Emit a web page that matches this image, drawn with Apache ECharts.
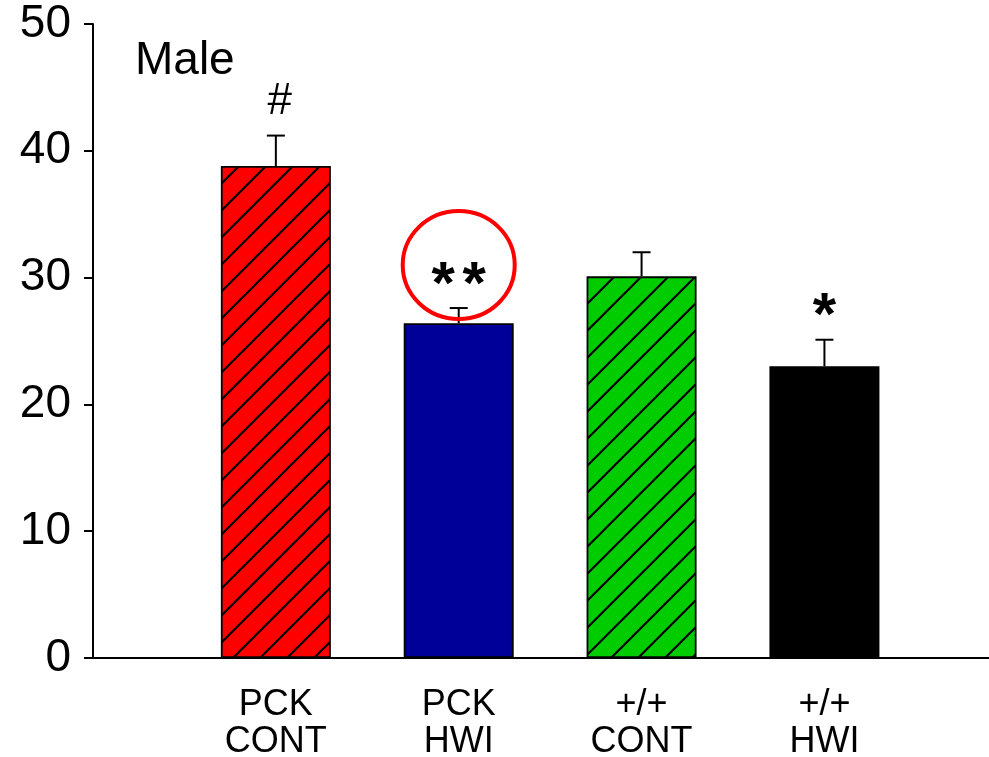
<!DOCTYPE html>
<html>
<head>
<meta charset="utf-8">
<script src="https://cdn.jsdelivr.net/npm/echarts@6/dist/echarts.min.js"></script>
<style>
  html, body { margin: 0; padding: 0; background: #fff; }
  #chart { width: 989px; height: 757px; }
</style>
</head>
<body>
<div id="chart"></div>
<script>
// Groups, means, SEM and significance marks
const groups = ['PCK\nCONT', 'PCK\nHWI', '+/+\nCONT', '+/+\nHWI'];
const means = [38.8, 26.4, 30.1, 23.0];
const sem = [2.4, 1.2, 1.9, 2.1];
const marks = ['#', '**', '', '*'];
const fills = ['#ff0000', '#000099', '#00cc00', '#000000'];
const hatched = [true, false, true, false];
const yTicks = [0, 10, 20, 30, 40, 50];
const panelTitle = 'Male';
const circledGroup = 1;

const FONT = '"Liberation Sans", Arial, sans-serif';

// Diagonal hatch tile filled with the bar colour
function hatchPattern(color) {
  const s = 27;
  const c = document.createElement('canvas');
  c.width = s; c.height = s;
  const g = c.getContext('2d');
  g.fillStyle = color;
  g.fillRect(0, 0, s, s);
  g.strokeStyle = '#000';
  g.lineWidth = 2.2;
  g.beginPath();
  g.moveTo(-2, s + 2); g.lineTo(s + 2, -2);
  g.moveTo(-2, 2); g.lineTo(2, -2);
  g.moveTo(s - 2, s + 2); g.lineTo(s + 2, s - 2);
  g.stroke();
  return { image: c, repeat: 'repeat' };
}

const barData = means.map((v, i) => ({
  value: [i + 1, v],
  itemStyle: { color: hatched[i] ? hatchPattern(fills[i]) : fills[i] }
}));

const errData = means.map((v, i) => [i + 1, v, v + sem[i], i]);

const chart = echarts.init(document.getElementById('chart'), null, { renderer: 'canvas' });

chart.setOption({
  animation: false,
  backgroundColor: '#fff',
  grid: { left: 93, right: 0, top: 24, bottom: 99, containLabel: false, outerBoundsMode: 'none' },
  xAxis: {
    type: 'value',
    min: 0,
    max: 4.9,
    interval: 1,
    splitLine: { show: false },
    axisLine: { show: true, lineStyle: { color: '#000', width: 2 } },
    axisTick: { show: false },
    axisLabel: {
      margin: 29,
      color: '#000',
      fontFamily: FONT,
      fontSize: 36,
      lineHeight: 37,
      showMinLabel: true,
      showMaxLabel: false,
      formatter: v => (v >= 1 && v <= groups.length && Number.isInteger(v)) ? groups[v - 1] : ''
    }
  },
  yAxis: {
    type: 'value',
    min: yTicks[0],
    max: yTicks[yTicks.length - 1],
    interval: 10,
    splitLine: { show: false },
    axisLine: { show: true, lineStyle: { color: '#000', width: 2 } },
    axisTick: { show: true, inside: false, length: 9, lineStyle: { color: '#000', width: 2 } },
    axisLabel: {
      margin: 22,
      color: '#000',
      fontFamily: FONT,
      fontSize: 46
    }
  },
  graphic: [{
    type: 'text',
    left: 135,
    top: 38,
    style: { text: panelTitle, font: '46px ' + FONT, fill: '#000' }
  }],
  series: [
    {
      type: 'bar',
      data: barData,
      barWidth: 110,
      itemStyle: { borderColor: '#000', borderWidth: 1.8 },
      z: 2
    },
    {
      type: 'custom',
      data: errData,
      z: 3,
      renderItem: function (params, api) {
        const x = api.value(0);
        const top = api.coord([x, api.value(2)]);
        const base = api.coord([x, api.value(1)]);
        const idx = api.value(3);
        const half = 9;
        const children = [
          { type: 'line', shape: { x1: top[0], y1: base[1], x2: top[0], y2: top[1] },
            style: { stroke: '#000', lineWidth: 2 } },
          { type: 'line', shape: { x1: top[0] - half, y1: top[1], x2: top[0] + half, y2: top[1] },
            style: { stroke: '#000', lineWidth: 2 } }
        ];
        const m = marks[idx];
        if (m === '#') {
          children.push({ type: 'text', x: top[0] + 4, y: top[1] - 34,
            style: { text: m, font: '44px ' + FONT, fill: '#000', align: 'center', verticalAlign: 'middle' } });
        } else if (m) {
          // asterisks drawn one by one so they keep a small gap between them
          const n = m.length;
          for (let k = 0; k < n; k++) {
            const dx = (k - (n - 1) / 2) * 31;
            children.push({ type: 'text', x: top[0] + dx, y: top[1] - 22,
              style: { text: '*', font: 'bold 60px ' + FONT, fill: '#000', align: 'center', verticalAlign: 'middle' } });
          }
        }
        if (idx === circledGroup) {
          children.push({ type: 'ellipse',
            shape: { cx: top[0], cy: top[1] - 43, rx: 56, ry: 54 },
            style: { fill: 'none', stroke: '#ff0000', lineWidth: 4 } });
        }
        return { type: 'group', children: children };
      }
    }
  ]
});
</script>
</body>
</html>
